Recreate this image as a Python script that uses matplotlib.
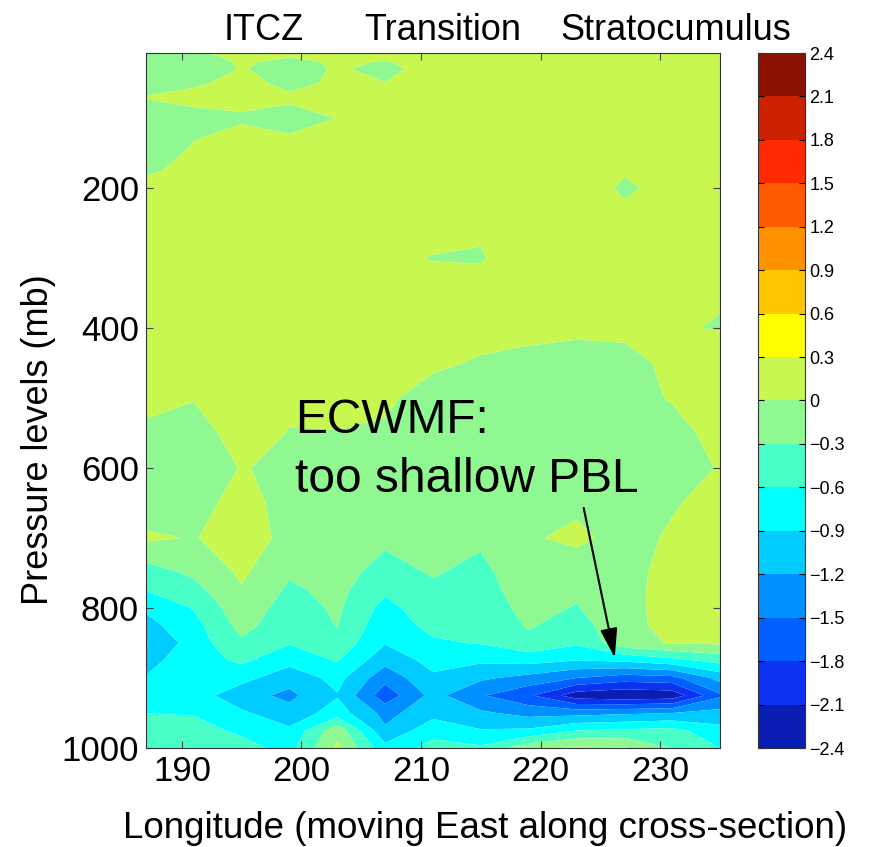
import numpy as np
import matplotlib
matplotlib.use('Agg')
import matplotlib.pyplot as plt
from matplotlib.colors import ListedColormap, BoundaryNorm
from matplotlib.ticker import FuncFormatter

plt.rcParams['font.family'] = ['Liberation Sans', 'DejaVu Sans']

#=== data: temperature-like anomaly along the cross-section ===
lon = [187, 191, 195, 199, 203, 207, 211, 215, 219, 223, 227, 231, 235]
plev = [7, 10, 20, 30, 50, 70, 100, 125, 150, 175, 200, 225, 250, 300, 350,
        400, 450, 500, 550, 600, 650, 700, 750, 775, 800, 825, 850, 875, 900,
        925, 950, 975, 1000]

#         187    191    195    199    203    207    211    215    219    223    227    231    235
anom = [
    [-0.10, -0.02,  0.10,  0.10,  0.10,  0.10,  0.10,  0.10,  0.10,  0.10,  0.10,  0.10,  0.10],  # 7
    [-0.10, -0.10,  0.10,  0.05,  0.10,  0.10,  0.10,  0.10,  0.10,  0.10,  0.10,  0.10,  0.10],  # 10
    [-0.15, -0.20,  0.05, -0.10,  0.05, -0.02,  0.10,  0.10,  0.10,  0.10,  0.10,  0.10,  0.10],  # 20
    [-0.15, -0.25,  0.03, -0.17,  0.045, -0.10, 0.15,  0.10,  0.10,  0.10,  0.10,  0.10,  0.10],  # 30
    [-0.10, -0.05,  0.10, -0.08,  0.05,  0.005, 0.10,  0.10,  0.10,  0.10,  0.10,  0.10,  0.10],  # 50
    [ 0.01,  0.10,  0.10,  0.05,  0.10,  0.10,  0.10,  0.10,  0.10,  0.10,  0.10,  0.10,  0.10],  # 70
    [-0.09, -0.11, -0.04, -0.10,  0.005, 0.10,  0.10,  0.10,  0.10,  0.10,  0.10,  0.10,  0.10],  # 100
    [-0.15, -0.03,  0.076, 0.01,  0.10,  0.10,  0.10,  0.10,  0.10,  0.10,  0.10,  0.10,  0.10],  # 125
    [-0.20,  0.06,  0.10,  0.10,  0.10,  0.10,  0.10,  0.10,  0.10,  0.10,  0.10,  0.10,  0.10],  # 150
    [-0.05,  0.10,  0.10,  0.10,  0.10,  0.10,  0.10,  0.10,  0.10,  0.10,  0.028, 0.10,  0.10],  # 175
    [ 0.12,  0.10,  0.10,  0.10,  0.10,  0.10,  0.10,  0.10,  0.10,  0.19, -0.05,  0.11,  0.10],  # 200
    [ 0.10,  0.10,  0.10,  0.10,  0.10,  0.10,  0.10,  0.10,  0.10,  0.10,  0.028, 0.10,  0.10],  # 225
    [ 0.10,  0.10,  0.10,  0.10,  0.10,  0.10,  0.10,  0.06,  0.10,  0.10,  0.10,  0.10,  0.10],  # 250
    [ 0.10,  0.10,  0.10,  0.10,  0.10,  0.05, -0.01, -0.03,  0.25,  0.10,  0.10,  0.10,  0.10],  # 300
    [ 0.10,  0.10,  0.10,  0.10,  0.10,  0.10,  0.10,  0.15,  0.10,  0.10,  0.10,  0.10,  0.03],  # 350
    [ 0.10,  0.10,  0.10,  0.10,  0.10,  0.10,  0.10,  0.10,  0.10,  0.05,  0.05,  0.03, -0.02],  # 400
    [ 0.10,  0.10,  0.10,  0.10,  0.10,  0.10,  0.05, -0.03, -0.10, -0.10, -0.07,  0.05,  0.25],  # 450
    [ 0.10,  0.03,  0.10,  0.10,  0.10,  0.05, -0.12, -0.10, -0.12, -0.12, -0.10,  0.02,  0.20],  # 500
    [-0.07, -0.25,  0.25, -0.022, -0.01, -0.04, -0.12, -0.10, -0.12, -0.12, -0.12, -0.10, 0.10],  # 550
    [-0.15, -0.20,  0.017, -0.07, -0.10, -0.10, -0.10, -0.12, -0.10, -0.10, -0.12, -0.10, 0.014],  # 600
    [-0.18, -0.10,  0.10, -0.10, -0.12, -0.15, -0.10, -0.15, -0.08, -0.046, -0.10, -0.02, 0.08],  # 650
    [ 0.05, -0.017, 0.15, -0.09, -0.15, -0.25, -0.15, -0.25, -0.025, 0.05, -0.08,  0.03,  0.10],  # 700
    [-0.45, -0.25,  0.05, -0.27, -0.20, -0.40, -0.28, -0.38, -0.10, -0.13, -0.05,  0.05,  0.10],  # 750
    [-0.60, -0.40, -0.03, -0.35, -0.22, -0.55, -0.35, -0.42, -0.15, -0.25, -0.05,  0.06,  0.10],  # 775
    [-0.85, -0.58, -0.10, -0.45, -0.25, -0.70, -0.40, -0.48, -0.20, -0.32, -0.05,  0.06,  0.10],  # 800
    [-1.00, -0.70, -0.20, -0.50, -0.29, -0.80, -0.50, -0.53, -0.27, -0.45, -0.05,  0.05,  0.08],  # 825
    [-1.22, -0.75, -0.35, -0.58, -0.40, -0.88, -0.65, -0.58, -0.38, -0.55, -0.10,  0.02,  0.04],  # 850
    [-1.00, -0.72, -0.55, -0.79, -0.58, -1.10, -0.80, -0.85, -0.80, -0.90, -0.85, -0.70, -0.50],  # 875
    [-0.88, -0.72, -0.80, -1.095, -0.80, -1.40, -0.95, -1.15, -1.30, -1.50, -1.65, -1.60, -1.10],  # 900
    [-0.75, -0.75, -1.09, -1.27, -0.92, -1.68, -1.10, -1.47, -1.75, -2.27, -2.35, -2.30, -1.55],  # 925
    [-0.60, -0.62, -0.85, -1.10, -0.75, -1.30, -1.00, -1.15, -1.30, -1.30, -1.25, -1.20, -1.10],  # 950
    [-0.45, -0.50, -0.65, -0.84, -0.10, -1.15, -0.70, -0.88, -0.85, -0.60, -0.55, -0.50, -0.80],  # 975
    [-0.40, -0.45, -0.50, -0.70,  0.06, -0.80, -0.50, -0.55, -0.10,  0.05,  0.02, -0.30, -0.60],  # 1000
]

levels = [-2.4, -2.1, -1.8, -1.5, -1.2, -0.9, -0.6, -0.3, 0.0,
          0.3, 0.6, 0.9, 1.2, 1.5, 1.8, 2.1, 2.4]
band_colors = ['#0a1eb4', '#0a32f0', '#0060ff', '#0090ff', '#00ccff', '#00ffff',
               '#48ffc8', '#90f890', '#c8f850', '#ffff00', '#ffc600', '#ff9000',
               '#ff5a00', '#ff2a00', '#cc2000', '#8b1200']

regions = ['ITCZ', 'Transition', 'Stratocumulus']
region_lon = [196.8, 211.8, 231.3]

#=== plot ===
cmap = ListedColormap(band_colors)
norm = BoundaryNorm(levels, cmap.N)

fig = plt.figure(figsize=(8.71, 8.47), dpi=100)
ax = fig.add_axes([146/871, 99/847, 574/871, 695/847])
cax = fig.add_axes([758/871, 99/847, 47/871, 695/847])

cf = ax.contourf(lon, plev, np.array(anom), levels=levels, cmap=cmap, norm=norm,
                 antialiased=True)
ax.set_xlim(187, 235)
ax.set_ylim(1000, 7)
ax.set_xticks([190, 200, 210, 220, 230])
ax.set_yticks([200, 400, 600, 800, 1000])
ax.tick_params(direction='in', top=True, right=True, labelsize=25,
               length=5, width=0.8, color='#444444', pad=5)
for s in ax.spines.values():
    s.set_color('#333333')

for name, x in zip(regions, region_lon):
    ax.text(x, 1.0187, name, transform=ax.get_xaxis_transform(),
            ha='center', va='baseline', fontsize=26)

ax.text(199.5, 550, 'ECWMF:', fontsize=34.5, va='baseline')
ax.text(199.5, 634, 'too shallow PBL', fontsize=34.5, va='baseline')
ax.annotate('', xy=(226.2, 871), xytext=(223.6, 657),
            arrowprops=dict(arrowstyle='-|>,head_length=1.2,head_width=0.35',
                            color='black', lw=1.5, mutation_scale=15,
                            shrinkA=0, shrinkB=0))

fig.text(485/871, 9/847, 'Longitude (moving East along cross-section)',
         ha='center', va='baseline', fontsize=26.5)
fig.text(38/871, 407/847, 'Pressure levels (mb)', rotation=90,
         ha='center', va='center', fontsize=26)

cb = fig.colorbar(cf, cax=cax, ticks=levels)
cb.ax.yaxis.set_major_formatter(FuncFormatter(
    lambda v, p: '0' if abs(v) < 1e-9 else ('%.1f' % v).replace('-', '\u2212')))
cb.ax.tick_params(labelsize=13, direction='in', length=4, left=True, right=True,
                  width=0.8, pad=3)
cb.outline.set_edgecolor('#333333')

plt.savefig('out.png', dpi=100)
